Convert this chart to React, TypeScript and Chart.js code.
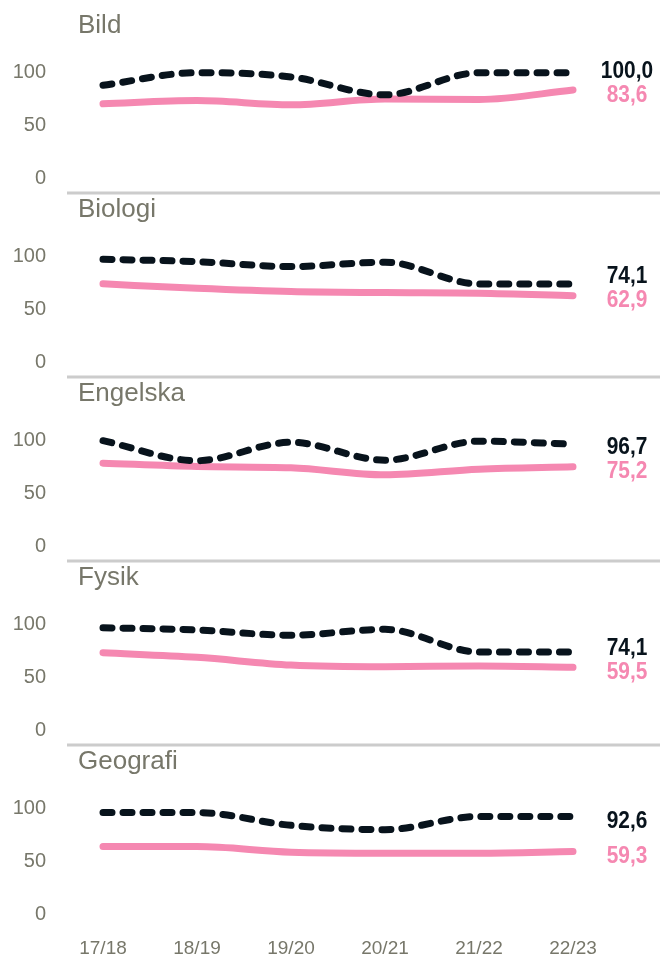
import React, { useEffect, useRef } from 'react';
import { Chart, registerables } from 'chart.js';

Chart.register(...registerables);

// ---- data ----
const categories = ['17/18', '18/19', '19/20', '20/21', '21/22', '22/23'];
const subjects = ['Bild', 'Biologi', 'Engelska', 'Fysik', 'Geografi'];
const yTicks = [0, 50, 100];

const bildDark = [88, 100, 96, 79, 100, 100];
const bildPink = [70.5, 73.5, 69.5, 75, 74.5, 83.6];
const biologiDark = [97.6, 95.3, 90.6, 94.8, 74.1, 74.1];
const biologiPink = [74.2, 70, 66.9, 65.9, 65.3, 62.9];
const engelskaDark = [100, 81, 98.5, 81.5, 99.5, 96.7];
const engelskaPink = [78.7, 75.5, 74.3, 67.6, 73, 75.2];
const fysikDark = [97.1, 95, 90, 95.6, 74.1, 74.1];
const fysikPink = [73.4, 69, 61.7, 60.1, 60.8, 59.5];
const geografiDark = [96.3, 96.3, 84.2, 80.1, 92.6, 92.6];
const geografiPink = [64, 64, 58.7, 57.8, 57.8, 59.3];

const darkSeries = [bildDark, biologiDark, engelskaDark, fysikDark, geografiDark];
const pinkSeries = [bildPink, biologiPink, engelskaPink, fysikPink, geografiPink];

// ---- style ----
const GRAY_TEXT = '#77776a';
const DARK = '#08131c';
const PINK = '#f588b1';
const SEP = '#cccccc';
const SANS = '"Liberation Sans", Arial, sans-serif';

const PANEL_H = 184;
const LAST_H = 223;
const ZERO_Y = 178;
const TOP_Y = 72.7;

function fmt(v: number) {
  return v.toFixed(1).replace('.', ',');
}

function Panel({ index }: { index: number }) {
  const ref = useRef<HTMLCanvasElement | null>(null);
  const isLast = index === subjects.length - 1;
  const height = isLast ? LAST_H : PANEL_H;

  useEffect(() => {
    if (!ref.current) return;
    const title = subjects[index];
    const decor = {
      id: 'panelDecor',
      beforeDraw(chart: any) {
        const ctx = chart.ctx;
        ctx.save();
        if (index > 0) {
          ctx.strokeStyle = SEP;
          ctx.lineWidth = 3;
          ctx.beginPath();
          ctx.moveTo(67, 9);
          ctx.lineTo(660, 9);
          ctx.stroke();
        }
        ctx.fillStyle = GRAY_TEXT;
        ctx.font = `26px ${SANS}`;
        ctx.textAlign = 'left';
        ctx.textBaseline = 'alphabetic';
        ctx.fillText(title, 78, 33.3);
        ctx.restore();
      },
      afterDatasetsDraw(chart: any) {
        const ctx = chart.ctx;
        const items = chart.data.datasets.map((ds: any, i: number) => {
          const meta = chart.getDatasetMeta(i);
          const pt = meta.data[meta.data.length - 1];
          return { y: pt.y + 5, text: fmt(ds.data[ds.data.length - 1]), color: ds.borderColor };
        });
        // keep labels apart: push the upper label up when they would collide
        items.sort((a: any, b: any) => b.y - a.y);
        const minSep = 24;
        for (let i = 1; i < items.length; i++) {
          if (items[i - 1].y - items[i].y < minSep) {
            items[i].y = items[i - 1].y - minSep;
          }
        }
        ctx.save();
        ctx.font = `bold 24px ${SANS}`;
        ctx.textAlign = 'center';
        ctx.textBaseline = 'middle';
        for (const it of items) {
          ctx.save();
          ctx.translate(627, it.y);
          ctx.scale(0.87, 1);
          ctx.fillStyle = it.color;
          ctx.fillText(it.text, 0, 0);
          ctx.restore();
        }
        ctx.restore();
      },
    };

    const chart = new Chart(ref.current, {
      type: 'line',
      data: {
        labels: categories,
        datasets: [
          {
            data: darkSeries[index],
            borderColor: DARK,
            borderWidth: 7,
            borderDash: [9, 11],
            borderCapStyle: 'round',
            borderJoinStyle: 'round',
            pointRadius: 0,
            cubicInterpolationMode: 'monotone',
            fill: false,
            clip: false,
          } as any,
          {
            data: pinkSeries[index],
            borderColor: PINK,
            borderWidth: 7,
            borderCapStyle: 'round',
            borderJoinStyle: 'round',
            pointRadius: 0,
            cubicInterpolationMode: 'monotone',
            fill: false,
            clip: false,
          } as any,
        ],
      },
      options: {
        responsive: false,
        animation: false,
        events: [],
        layout: {
          autoPadding: false,
          padding: {
            top: TOP_Y,
            right: 87,
            bottom: isLast ? 0 : height - ZERO_Y,
            left: 0,
          },
        },
        scales: {
          x: {
            display: isLast,
            grid: { display: false, drawTicks: false },
            border: { display: false },
            ticks: {
              color: GRAY_TEXT,
              font: { family: SANS, size: 19 },
              padding: 23,
              maxRotation: 0,
              autoSkip: false,
            },
            afterFit: (s: any) => {
              s.height = isLast ? height - ZERO_Y : 0;
              s.paddingLeft = 0;
              s.paddingRight = 0;
              s.paddingTop = 0;
              s.paddingBottom = 0;
            },
          },
          y: {
            min: 0,
            max: 100,
            afterBuildTicks: (s: any) => {
              s.ticks = yTicks.map((v) => ({ value: v }));
            },
            grid: { display: false, drawTicks: false },
            border: { display: false },
            ticks: {
              color: GRAY_TEXT,
              font: { family: SANS, size: 20 },
              padding: 57,
            },
            afterFit: (s: any) => {
              s.width = 103;
              s.paddingTop = 0;
              s.paddingBottom = 0;
              s.paddingLeft = 0;
              s.paddingRight = 0;
            },
          },
        },
        plugins: {
          legend: { display: false },
          tooltip: { enabled: false },
          title: { display: false },
        },
      } as any,
      plugins: [decor as any],
    });
    return () => chart.destroy();
  }, [index, height]);

  return (
    <canvas
      ref={ref}
      width={660}
      height={height}
      style={{ display: 'block', width: 660, height }}
    />
  );
}

export default function App() {
  return (
    <div
      style={{
        position: 'absolute',
        left: 0,
        top: 0,
        width: 660,
        height: 959,
        background: '#ffffff',
      }}
    >
      {subjects.map((s, i) => (
        <Panel key={s} index={i} />
      ))}
    </div>
  );
}
